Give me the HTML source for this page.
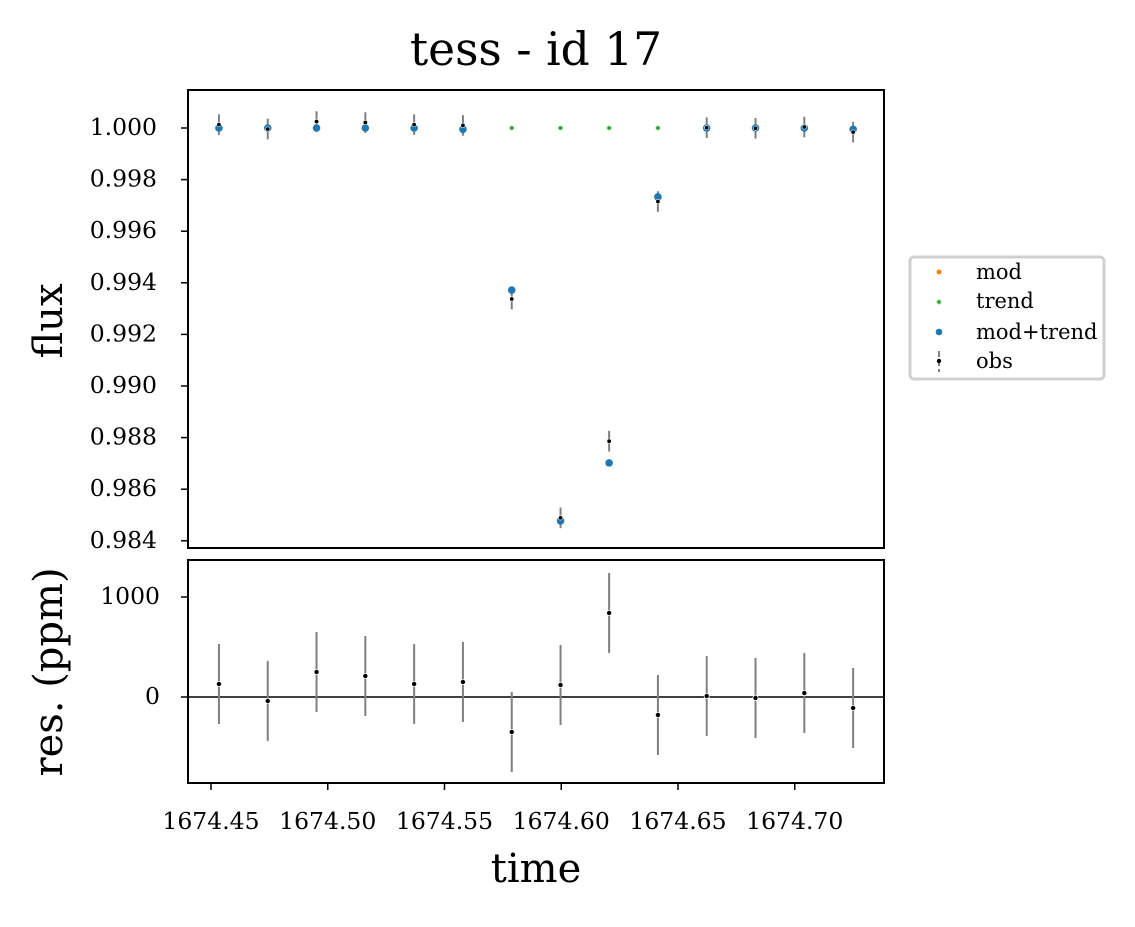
<!DOCTYPE html>
<html><head><meta charset="utf-8"><style>
body{margin:0;background:#fff}
svg{font-family:"DejaVu Serif","Liberation Serif",serif}
</style></head><body>
<svg id="c" width="1135" height="922" viewBox="0 0 1135 922" xmlns="http://www.w3.org/2000/svg">
<text x="536" y="65" font-size="45.5" text-anchor="middle">tess - id 17</text>
<text transform="translate(62,321) rotate(-90)" font-size="40" text-anchor="middle">flux</text>
<text transform="translate(62,672) rotate(-90)" font-size="40" text-anchor="middle">res. (ppm)</text>
<text x="536" y="882" font-size="40" text-anchor="middle">time</text>
<g id="topPanel"></g>
<g id="botPanel"></g>
<g>
<rect x="910" y="257" width="194" height="122" rx="4" fill="#fff" stroke="#d0d0d0" stroke-width="3"/>
<circle cx="939" cy="272" r="2.5" fill="#ff7f0e"/>
<text x="976" y="279" font-size="21">mod</text>
<circle cx="939" cy="302" r="2" fill="#2ca02c" stroke="#8ad08a" stroke-width="1"/>
<text x="976" y="308" font-size="21">trend</text>
<circle cx="939" cy="332" r="3.3" fill="#1f77b4"/>
<text x="976" y="339" font-size="21">mod+trend</text>
<line x1="939" y1="351" x2="939" y2="372" stroke="#808080" stroke-width="2" stroke-dasharray="6,3"/>
<circle cx="939" cy="361" r="2.2" fill="#000"/>
<text x="976" y="368" font-size="21">obs</text>
</g>
</svg>
<script>
const times=[1674.4534,1674.4743,1674.4952,1674.5161,1674.5370,1674.5579,1674.5788,1674.5997,1674.6205,1674.6414,1674.6623,1674.6832,1674.7041,1674.7250];
const modTrend=[1.0000,1.0000,1.0000,1.0000,1.0000,0.99995,0.99372,0.98477,0.98702,0.99733,1.0000,1.0000,1.0000,0.99995];
const trend=[1.0000,1.0000,1.0000,1.0000,1.0000,1.0000,1.0000,1.0000,1.0000,1.0000,1.0000,1.0000,1.0000,1.0000];
const resid=[130,-40,250,210,130,150,-350,120,840,-180,10,-10,40,-110];
const errPpm=[400,400,400,400,400,400,400,400,400,400,400,400,400,400];
const xTicks=[1674.45,1674.50,1674.55,1674.60,1674.65,1674.70];
const yTicks=[0.984,0.986,0.988,0.990,0.992,0.994,0.996,0.998,1.000];
const rTicks=[0,1000];
const NS="http://www.w3.org/2000/svg";
const X=t=>211+(t-1674.45)*2335;
const Y=v=>128+(1-v)*25800;
const R=v=>697-v*0.1;
function mk(p,tag,a){const e=document.createElementNS(NS,tag);for(const k in a)e.setAttribute(k,a[k]);p.appendChild(e);return e;}
const tp=document.getElementById('topPanel'),bp=document.getElementById('botPanel');
mk(tp,'rect',{x:188,y:90,width:696,height:458,fill:'none',stroke:'#000','stroke-width':2});
mk(bp,'rect',{x:188,y:560,width:696,height:223,fill:'none',stroke:'#000','stroke-width':2});
yTicks.forEach(v=>{const y=Y(v);
 const l=mk(tp,'line',{x1:181,x2:188,y1:y,y2:y,stroke:'#000','stroke-width':1.5});
 
 
 const t=mk(tp,'text',{x:157,y:y+7,'font-size':23.5,'text-anchor':'end'});t.textContent=v.toFixed(3);
 
 });
rTicks.forEach(v=>{const y=R(v);
 mk(bp,'line',{x1:181,x2:188,y1:y,y2:y,stroke:'#000','stroke-width':1.5});
 const t=mk(bp,'text',{x:160,y:y+7,'font-size':23.5,'text-anchor':'end'});t.textContent=String(v);
 
 });
xTicks.forEach(v=>{const x=X(v);
 mk(bp,'line',{x1:x,x2:x,y1:783,y2:790,stroke:'#000','stroke-width':1.5});
 const t=mk(bp,'text',{x:x,y:829,'font-size':23.5,'text-anchor':'middle'});t.textContent=v.toFixed(2);
 
 });
mk(bp,'line',{x1:188,x2:884,y1:R(0),y2:R(0),stroke:'#000','stroke-width':1.5});
times.forEach((tm,i)=>{const x=X(tm);
 const obs=modTrend[i]+resid[i]*1e-6, e=errPpm[i]*1e-6;
 mk(tp,'line',{x1:x,x2:x,y1:Y(obs+e),y2:Y(obs-e),stroke:'#808080','stroke-width':2});
 const g=mk(tp,'circle',{cx:x,cy:Y(trend[i]),r:2,fill:'#2ca02c',stroke:'#8ad08a','stroke-width':0.8});
 
 
 const m=mk(tp,'circle',{cx:x,cy:Y(modTrend[i]),r:3.8,fill:'#1f77b4'});
 
 
 const o=mk(tp,'circle',{cx:x,cy:Y(obs),r:2.2,fill:'#000',stroke:'#fff','stroke-width':0.6});
 
 
 mk(bp,'line',{x1:x,x2:x,y1:R(resid[i]+errPpm[i]),y2:R(resid[i]-errPpm[i]),stroke:'#808080','stroke-width':2});
 const r=mk(bp,'circle',{cx:x,cy:R(resid[i]),r:2.6,fill:'#000',stroke:'#fff','stroke-width':0.8});
 
 
});
</script>
</body></html>
